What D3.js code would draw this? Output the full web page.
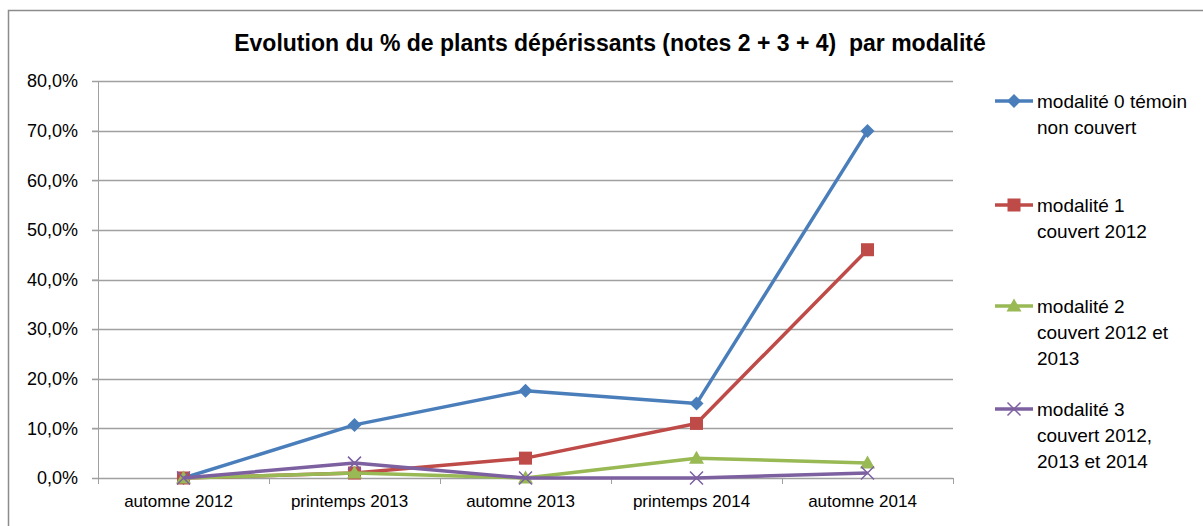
<!DOCTYPE html>
<html>
<head>
<meta charset="utf-8">
<script src="https://cdn.jsdelivr.net/npm/d3@7"></script>
<style>
  body { margin: 0; background: #fff; }
  text { font-family: "Liberation Sans", Arial, sans-serif; fill: #000; }
</style>
</head>
<body>
<script>
// data
var periods = ["automne 2012", "printemps 2013", "automne 2013", "printemps 2014", "automne 2014"];
var seriesNames = [
  ["modalité 0 témoin", "non couvert"],
  ["modalité 1", "couvert 2012"],
  ["modalité 2", "couvert 2012 et", "2013"],
  ["modalité 3", "couvert 2012,", "2013 et 2014"]
];
var mod0 = [0, 10.7, 17.6, 15.0, 69.9];
var mod1 = [0, 1.0, 4.0, 11.0, 46.0];
var mod2 = [0, 1.0, 0, 4.0, 3.0];
var mod3 = [0, 3.0, 0, 0, 1.0];
var yTicks = [0, 10, 20, 30, 40, 50, 60, 70, 80];
var colors = ["#4A7EBB", "#BE4B48", "#98B954", "#7D60A0"];
var markers = ["diamond", "square", "triangle", "cross"];
var legendY = [101, 205, 306, 409];

var allSeries = [mod0, mod1, mod2, mod3];

var svgWidth = 1203, svgHeight = 526;
var margin = { top: 81, left: 98, right: 250, bottom: 48 };
var width = 953 - margin.left;
var height = 478 - margin.top;

var svg = d3.select("body").append("svg")
  .attr("width", svgWidth)
  .attr("height", svgHeight);

// outer chart border (only top + left visible)
svg.append("path")
  .attr("d", "M8.5,526 L8.5,10.5 L1203,10.5")
  .attr("fill", "none")
  .attr("stroke", "#8c8c8c")
  .attr("stroke-width", 1.5);

svg.append("text")
  .attr("x", 610)
  .attr("y", 51)
  .attr("text-anchor", "middle")
  .attr("font-weight", "bold")
  .attr("font-size", "23px")
  .style("white-space", "pre")
  .text("Evolution du % de plants dépérissants (notes 2 + 3 + 4)  par modalité");

var g = svg.append("g")
  .attr("transform", "translate(" + margin.left + "," + margin.top + ")");

var x = d3.scaleBand().domain(periods).range([0, width]);
var y = d3.scaleLinear().domain([0, 80]).range([height, 0]);

// gridlines
g.append("g")
  .selectAll("line")
  .data(yTicks)
  .enter().append("line")
  .attr("x1", -6)
  .attr("x2", width)
  .attr("y1", function(d) { return Math.round(y(d)) + 0.5; })
  .attr("y2", function(d) { return Math.round(y(d)) + 0.5; })
  .attr("stroke", "#a0a0a0")
  .attr("stroke-width", 1.3);

// y axis
var yAxis = g.append("g")
  .call(d3.axisLeft(y).tickValues(yTicks).tickSize(6)
    .tickFormat(function(d) { return d3.format(".1f")(d).replace(".", ",") + "%"; }));
yAxis.selectAll("line").attr("stroke", "#a0a0a0");
yAxis.select(".domain").attr("stroke", "#a0a0a0").attr("d", "M0.5,0V" + height);
yAxis.selectAll("text").attr("font-size", "18px").attr("x", -20).attr("fill", "#000");

// x axis
var xAxis = g.append("g")
  .attr("transform", "translate(0," + height + ")")
  .call(d3.axisBottom(x).tickSize(0));
xAxis.select(".domain").remove();
xAxis.selectAll("text").attr("font-size", "17px").attr("x", -5).attr("y", 17).attr("dy", "0.71em").attr("fill", "#000");
xAxis.selectAll(".sep")
  .data(d3.range(periods.length + 1))
  .enter().append("line")
  .attr("class", "sep")
  .attr("x1", function(i) { return Math.round(i * x.step()) + 0.5; })
  .attr("x2", function(i) { return Math.round(i * x.step()) + 0.5; })
  .attr("y1", 0)
  .attr("y2", 6)
  .attr("stroke", "#a0a0a0");

var line = d3.line()
  .x(function(d, i) { return x(periods[i]) + x.bandwidth() / 2; })
  .y(function(d) { return y(d); });

function drawMarker(sel, type, color) {
  if (type === "diamond") {
    sel.append("path").attr("d", "M0,-7L7,0L0,7L-7,0Z").attr("fill", color);
  } else if (type === "square") {
    sel.append("rect").attr("x", -6.5).attr("y", -6.5).attr("width", 13).attr("height", 13).attr("fill", color);
  } else if (type === "triangle") {
    sel.append("path").attr("d", "M0,-7.5L7.5,5.5L-7.5,5.5Z").attr("fill", color);
  } else {
    sel.append("path").attr("d", "M-6.5,-6.5L6.5,6.5M-6.5,6.5L6.5,-6.5").attr("stroke", color).attr("stroke-width", 1.5);
  }
}

allSeries.forEach(function(vals, s) {
  var sg = g.append("g");
  sg.append("path")
    .datum(vals)
    .attr("fill", "none")
    .attr("stroke", colors[s])
    .attr("stroke-width", 3.5)
    .attr("stroke-linejoin", "round")
    .attr("d", line);
  sg.selectAll(".m")
    .data(vals)
    .enter().append("g")
    .attr("transform", function(d, i) {
      return "translate(" + (x(periods[i]) + x.bandwidth() / 2) + "," + y(d) + ")";
    })
    .each(function() { drawMarker(d3.select(this), markers[s], colors[s]); });
});

// legend
var leg = svg.append("g");
seriesNames.forEach(function(lines, s) {
  var ly = legendY[s];
  var lg = leg.append("g").attr("transform", "translate(0," + ly + ")");
  lg.append("line")
    .attr("x1", 995).attr("x2", 1033)
    .attr("stroke", colors[s]).attr("stroke-width", 3.5);
  drawMarker(lg.append("g").attr("transform", "translate(1014,0)"), markers[s], colors[s]);
  lines.forEach(function(t, k) {
    lg.append("text")
      .attr("x", 1037)
      .attr("y", k * 26 + 7)
      .attr("font-size", "19px")
      .text(t);
  });
});
</script>
</body>
</html>
